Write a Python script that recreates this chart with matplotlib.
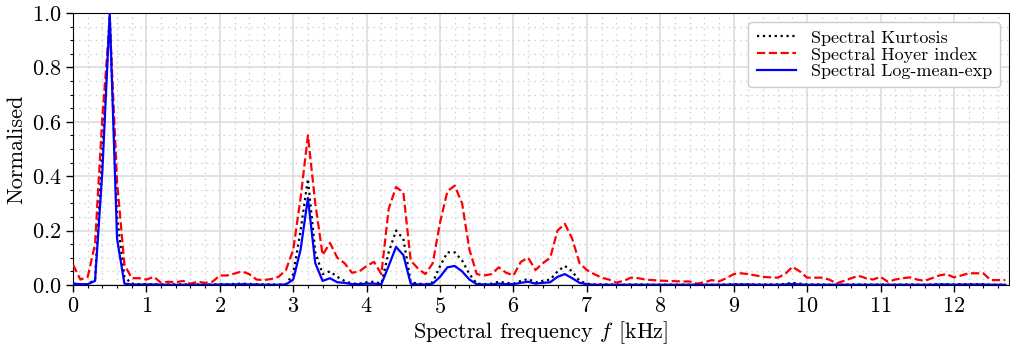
#!/usr/bin/env python3
import numpy as np
import matplotlib
matplotlib.use("Agg")
import matplotlib.pyplot as plt
from matplotlib.ticker import MultipleLocator

# frequency axis in kHz, one bin every 0.1 kHz
freq_khz = np.round(np.arange(0.0, 12.75, 0.1), 1)

hoyer = [
    0.075, 0.02, 0.03, 0.15, 0.62, 0.97, 0.38, 0.075, 0.025, 0.025,
    0.02, 0.03, 0.008, 0.012, 0.01, 0.015, 0.005, 0.012, 0.008, 0.012,
    0.035, 0.035, 0.042, 0.05, 0.04, 0.02, 0.018, 0.022, 0.03, 0.055,
    0.13, 0.32, 0.55, 0.30, 0.11, 0.155, 0.10, 0.08, 0.045, 0.05,
    0.07, 0.085, 0.04, 0.28, 0.36, 0.34, 0.09, 0.06, 0.04, 0.08,
    0.23, 0.345, 0.365, 0.30, 0.13, 0.04, 0.035, 0.04, 0.065, 0.045,
    0.035, 0.085, 0.10, 0.055, 0.08, 0.10, 0.20, 0.225, 0.17, 0.08,
    0.055, 0.04, 0.027, 0.02, 0.009, 0.015, 0.027, 0.025, 0.02, 0.018,
    0.016, 0.015, 0.014, 0.013, 0.013, 0.005, 0.01, 0.018, 0.013, 0.025,
    0.04, 0.043, 0.04, 0.035, 0.03, 0.028, 0.027, 0.04, 0.067, 0.05,
    0.027, 0.027, 0.027, 0.02, 0.006, 0.015, 0.025, 0.034, 0.025, 0.02,
    0.03, 0.012, 0.02, 0.025, 0.028, 0.02, 0.015, 0.025, 0.035, 0.04,
    0.028, 0.035, 0.043, 0.043, 0.043, 0.018, 0.018, 0.018,
]

kurtosis = [
    0.005, 0.003, 0.003, 0.02, 0.50, 0.99, 0.25, 0.03, 0.005, 0.003,
    0.003, 0.003, 0.002, 0.002, 0.002, 0.002, 0.002, 0.002, 0.002, 0.002,
    0.003, 0.003, 0.004, 0.005, 0.004, 0.003, 0.002, 0.002, 0.002, 0.003,
    0.04, 0.20, 0.39, 0.12, 0.04, 0.05, 0.03, 0.015, 0.005, 0.005,
    0.01, 0.012, 0.005, 0.12, 0.20, 0.17, 0.01, 0.005, 0.003, 0.01,
    0.07, 0.12, 0.12, 0.09, 0.04, 0.005, 0.003, 0.005, 0.012, 0.008,
    0.005, 0.015, 0.022, 0.01, 0.015, 0.02, 0.05, 0.07, 0.05, 0.015,
    0.005, 0.002, 0.002, 0.002, 0.001, 0.001, 0.002, 0.002, 0.002, 0.001,
    0.001, 0.001, 0.001, 0.001, 0.001, 0.001, 0.001, 0.001, 0.001, 0.002,
    0.003, 0.003, 0.003, 0.002, 0.002, 0.002, 0.002, 0.004, 0.008, 0.005,
    0.002, 0.002, 0.002, 0.001, 0.001, 0.001, 0.002, 0.002, 0.002, 0.001,
    0.002, 0.001, 0.001, 0.002, 0.002, 0.001, 0.001, 0.002, 0.003, 0.003,
    0.002, 0.003, 0.003, 0.003, 0.003, 0.001, 0.001, 0.001,
]

log_mean_exp = [
    0.005, 0.003, 0.003, 0.015, 0.42, 1.0, 0.17, 0.005, 0.002, 0.002,
    0.002, 0.002, 0.001, 0.001, 0.001, 0.001, 0.001, 0.001, 0.001, 0.001,
    0.002, 0.002, 0.002, 0.003, 0.002, 0.002, 0.001, 0.001, 0.001, 0.002,
    0.02, 0.13, 0.32, 0.08, 0.015, 0.025, 0.01, 0.008, 0.003, 0.003,
    0.005, 0.005, 0.003, 0.07, 0.14, 0.11, 0.005, 0.002, 0.002, 0.005,
    0.03, 0.065, 0.07, 0.05, 0.02, 0.003, 0.002, 0.002, 0.005, 0.003,
    0.003, 0.008, 0.012, 0.005, 0.008, 0.01, 0.03, 0.04, 0.025, 0.008,
    0.003, 0.001, 0.001, 0.001, 0.001, 0.001, 0.001, 0.001, 0.001, 0.001,
    0.001, 0.001, 0.001, 0.001, 0.001, 0.001, 0.001, 0.001, 0.001, 0.001,
    0.002, 0.002, 0.002, 0.001, 0.001, 0.001, 0.001, 0.002, 0.004, 0.002,
    0.001, 0.001, 0.001, 0.001, 0.001, 0.001, 0.001, 0.001, 0.001, 0.001,
    0.001, 0.001, 0.001, 0.001, 0.001, 0.001, 0.001, 0.001, 0.002, 0.002,
    0.001, 0.002, 0.002, 0.002, 0.002, 0.001, 0.001, 0.001,
]

plt.rcParams["font.family"] = "serif"
plt.rcParams["font.serif"] = ["cmr10", "DejaVu Serif"]
plt.rcParams["mathtext.fontset"] = "cm"
plt.rcParams["axes.formatter.use_mathtext"] = True
plt.rcParams["axes.unicode_minus"] = False


def main() -> None:
    fig = plt.figure(figsize=(10.1, 3.49), dpi=100)
    ax = fig.add_axes([0.0723, 0.1834, 0.9267, 0.7794])

    ax.plot(freq_khz, kurtosis, color="black", linestyle=":", linewidth=1.6,
            label="Spectral Kurtosis", zorder=3)
    ax.plot(freq_khz, hoyer, color="red", linestyle="--", linewidth=1.6,
            label="Spectral Hoyer index", zorder=3)
    ax.plot(freq_khz, log_mean_exp, color="blue", linestyle="-", linewidth=1.6,
            label="Spectral Log-mean-exp", zorder=4)

    ax.set_xlim(0, 12.75)
    ax.set_ylim(0, 1.0)
    ax.xaxis.set_major_locator(MultipleLocator(1))
    ax.xaxis.set_minor_locator(MultipleLocator(0.2))
    ax.yaxis.set_major_locator(MultipleLocator(0.2))
    ax.yaxis.set_minor_locator(MultipleLocator(0.05))

    ax.grid(which="major", color="#dddddd", linewidth=1.2, linestyle="-")
    ax.grid(which="minor", color="#cfcfcf", linewidth=1.0, linestyle=(0, (1, 3)))
    ax.set_axisbelow(True)

    ax.tick_params(which="major", length=5, width=1, labelsize=16)
    ax.tick_params(which="minor", length=2.5, width=0.8)

    ax.set_xlabel(r"Spectral frequency $f$ [kHz]", fontsize=16, labelpad=2)
    ax.set_ylabel("Normalised", fontsize=16, labelpad=4)

    ax.legend(loc="upper right", fontsize=13, handlelength=2.2,
              labelspacing=0.05, borderpad=0.45, framealpha=1.0,
              edgecolor="#cccccc", fancybox=True)

    fig.savefig("out.png", dpi=100)
    plt.close(fig)


if __name__ == "__main__":
    main()
